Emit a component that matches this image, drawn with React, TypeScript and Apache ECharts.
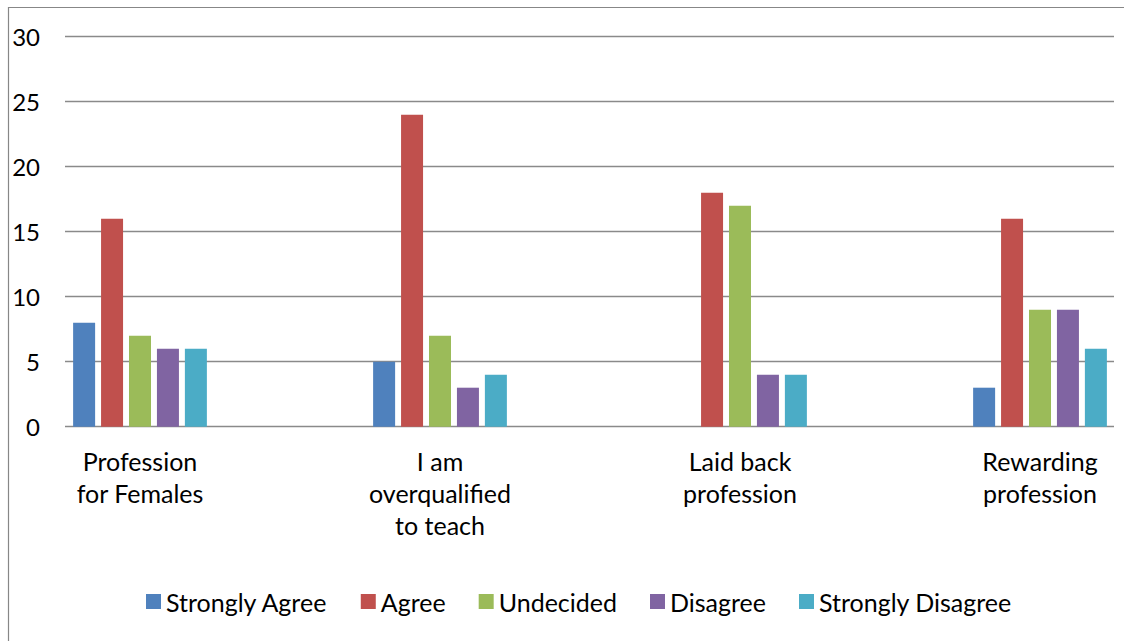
import React, { useEffect, useRef } from "react";
import * as echarts from "echarts";

const categories = [
  "Profession\nfor Females",
  "I am\noverqualified\nto teach",
  "Laid back\nprofession",
  "Rewarding\nprofession",
];
const seriesNames = ["Strongly Agree", "Agree", "Undecided", "Disagree", "Strongly Disagree"];
const stronglyAgree = [8, 5, 0, 3];
const agree = [16, 24, 18, 16];
const undecided = [7, 7, 17, 9];
const disagree = [6, 3, 4, 9];
const stronglyDisagree = [6, 4, 4, 6];
const colors = ["#4F81BD", "#C0504D", "#9BBB59", "#8064A2", "#4BACC6"];
const yTicks = { min: 0, max: 30, interval: 5 };

const FONT = "Lato";

export default function App() {
  const ref = useRef<HTMLDivElement>(null);
  useEffect(() => {
    if (!ref.current) return;
    const chart = echarts.init(ref.current, null, { renderer: "svg" });
    const values = [stronglyAgree, agree, undecided, disagree, stronglyDisagree];
    const top = 36.7;
    const height = 390;
    chart.setOption({
      animation: false,
      backgroundColor: "#ffffff",
      textStyle: { fontFamily: FONT },
      graphic: [
        {
          type: "rect",
          shape: { x: 8.5, y: 7.5, width: 1300, height: 800 },
          style: { fill: "none", stroke: "#878787", lineWidth: 1.2 },
          silent: true,
        },
      ],
      legend: {
        left: 146,
        top: 589,
        padding: 0,
        itemWidth: 15,
        itemHeight: 15,
        itemGap: 33,
        icon: "rect",
        textStyle: { fontFamily: FONT, fontSize: 25, color: "#000", padding: [0, 0, 0, 0] },
        data: seriesNames,
      },
      grid: [
        { left: 65, right: 10, top, height },
        { left: 140, right: 84, top, height },
      ],
      xAxis: [
        { type: "category", gridIndex: 0, data: categories, show: false },
        {
          type: "category",
          gridIndex: 1,
          data: categories,
          boundaryGap: false,
          axisLine: { show: false },
          axisTick: { show: false },
          axisLabel: {
            interval: 0,
            margin: 18,
            fontFamily: FONT,
            fontSize: 25,
            lineHeight: 32,
            color: "#000",
            align: "center",
          },
          splitLine: { show: false },
        },
      ],
      yAxis: [
        {
          type: "value",
          gridIndex: 0,
          min: yTicks.min,
          max: yTicks.max,
          interval: yTicks.interval,
          axisLine: { show: false },
          axisTick: { show: false },
          axisLabel: { margin: 25, fontFamily: FONT, fontSize: 24, color: "#000" },
          splitLine: { lineStyle: { color: "#8a8a8a", width: 1.4 } },
        },
        {
          type: "value",
          gridIndex: 1,
          min: yTicks.min,
          max: yTicks.max,
          interval: yTicks.interval,
          show: false,
          splitLine: { show: false },
        },
      ],
      series: seriesNames.map((name, i) => ({
        name,
        type: "bar",
        xAxisIndex: 1,
        yAxisIndex: 1,
        data: values[i],
        barWidth: 22,
        barGap: "27%",
        itemStyle: { color: colors[i] },
      })),
    });
    return () => chart.dispose();
  }, []);
  return (
    <div
      ref={ref}
      style={{ position: "absolute", left: 0, top: 0, width: 1124, height: 641 }}
    />
  );
}
